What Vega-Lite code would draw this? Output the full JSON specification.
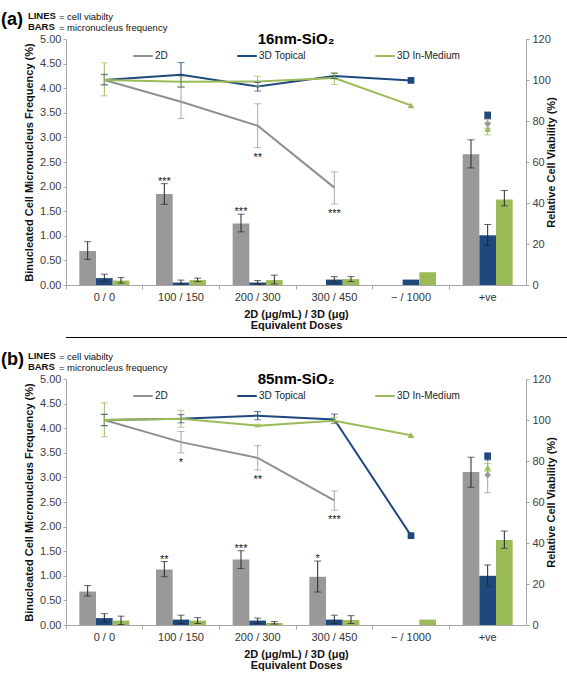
{
  "$schema": "https://vega.github.io/schema/vega-lite/v6.json",
  "background": "white",
  "padding": {"left": 0, "top": 10, "right": 0, "bottom": 0},
  "config": {
    "view": {"stroke": null},
    "font": "Liberation Sans",
    "axis": {"labelFont": "Liberation Sans", "titleFont": "Liberation Sans", "labelColor": "#404040", "titleColor": "#111111", "domainColor": "#a6a6a6", "tickColor": "#a6a6a6", "grid": false, "labelFontSize": 11, "titleFontSize": 11, "titleFontWeight": "bold"},
    "legend": {"labelFont": "Liberation Sans", "titleFont": "Liberation Sans"}
  },
  "datasets": {
    "d": [
      {"panel": "a", "dose": "0 / 0", "series": "2D", "bar": 0.69, "barLo": 0.52, "barHi": 0.88, "barSig": null, "via": 100, "viaLo": 97.5, "viaHi": 102.5, "viaSig": null},
      {"panel": "a", "dose": "0 / 0", "series": "3D Topical", "bar": 0.14, "barLo": 0.07, "barHi": 0.22, "barSig": null, "via": 100, "viaLo": 97.7, "viaHi": 102.8, "viaSig": null},
      {"panel": "a", "dose": "0 / 0", "series": "3D In-Medium", "bar": 0.09, "barLo": 0.04, "barHi": 0.15, "barSig": null, "via": 100, "viaLo": 92.3, "viaHi": 108.4, "viaSig": null},
      {"panel": "a", "dose": "100 / 150", "series": "2D", "bar": 1.85, "barLo": 1.64, "barHi": 2.06, "barSig": "***", "via": 89.4, "viaLo": 81.2, "viaHi": 96.6, "viaSig": null},
      {"panel": "a", "dose": "100 / 150", "series": "3D Topical", "bar": 0.05, "barLo": 0.02, "barHi": 0.1, "barSig": null, "via": 102.5, "viaLo": 96.5, "viaHi": 108.5, "viaSig": null},
      {"panel": "a", "dose": "100 / 150", "series": "3D In-Medium", "bar": 0.1, "barLo": 0.07, "barHi": 0.14, "barSig": null, "via": 99.2, "viaLo": 96.8, "viaHi": 101.5, "viaSig": null},
      {"panel": "a", "dose": "200 / 300", "series": "2D", "bar": 1.25, "barLo": 1.08, "barHi": 1.44, "barSig": "***", "via": 77.7, "viaLo": 67.0, "viaHi": 88.4, "viaSig": "**"},
      {"panel": "a", "dose": "200 / 300", "series": "3D Topical", "bar": 0.05, "barLo": 0.02, "barHi": 0.09, "barSig": null, "via": 96.8, "viaLo": 94.6, "viaHi": 98.8, "viaSig": null},
      {"panel": "a", "dose": "200 / 300", "series": "3D In-Medium", "bar": 0.1, "barLo": 0.02, "barHi": 0.2, "barSig": null, "via": 99.3, "viaLo": 97.0, "viaHi": 101.8, "viaSig": null},
      {"panel": "a", "dose": "300 / 450", "series": "2D", "bar": null, "barLo": null, "barHi": null, "barSig": null, "via": 47.5, "viaLo": 39.5, "viaHi": 55.2, "viaSig": "***"},
      {"panel": "a", "dose": "300 / 450", "series": "3D Topical", "bar": 0.11, "barLo": 0.05, "barHi": 0.17, "barSig": null, "via": 102.0, "viaLo": 100.8, "viaHi": 103.3, "viaSig": null},
      {"panel": "a", "dose": "300 / 450", "series": "3D In-Medium", "bar": 0.12, "barLo": 0.07, "barHi": 0.17, "barSig": null, "via": 101.0, "viaLo": 97.8, "viaHi": 103.6, "viaSig": null},
      {"panel": "a", "dose": "− / 1000", "series": "2D", "bar": null, "barLo": null, "barHi": null, "barSig": null, "via": null, "viaLo": null, "viaHi": null, "viaSig": null},
      {"panel": "a", "dose": "− / 1000", "series": "3D Topical", "bar": 0.11, "barLo": null, "barHi": null, "barSig": null, "via": 99.8, "viaLo": null, "viaHi": null, "viaSig": null},
      {"panel": "a", "dose": "− / 1000", "series": "3D In-Medium", "bar": 0.26, "barLo": null, "barHi": null, "barSig": null, "via": 87.6, "viaLo": null, "viaHi": null, "viaSig": null},
      {"panel": "a", "dose": "+ve", "series": "2D", "bar": 2.66, "barLo": 2.38, "barHi": 2.95, "barSig": null, "via": 78.6, "viaLo": 76.5, "viaHi": 80.8, "viaSig": null},
      {"panel": "a", "dose": "+ve", "series": "3D Topical", "bar": 1.01, "barLo": 0.8, "barHi": 1.23, "barSig": null, "via": 82.8, "viaLo": 81.2, "viaHi": 84.4, "viaSig": null},
      {"panel": "a", "dose": "+ve", "series": "3D In-Medium", "bar": 1.74, "barLo": 1.61, "barHi": 1.92, "barSig": null, "via": 76.2, "viaLo": 73.2, "viaHi": 79.2, "viaSig": null},

      {"panel": "b", "dose": "0 / 0", "series": "2D", "bar": 0.68, "barLo": 0.59, "barHi": 0.8, "barSig": null, "via": 100, "viaLo": 97.0, "viaHi": 103.0, "viaSig": null},
      {"panel": "b", "dose": "0 / 0", "series": "3D Topical", "bar": 0.14, "barLo": 0.06, "barHi": 0.23, "barSig": null, "via": 100, "viaLo": 97.3, "viaHi": 102.7, "viaSig": null},
      {"panel": "b", "dose": "0 / 0", "series": "3D In-Medium", "bar": 0.09, "barLo": 0.01, "barHi": 0.18, "barSig": null, "via": 100, "viaLo": 91.8, "viaHi": 108.4, "viaSig": null},
      {"panel": "b", "dose": "100 / 150", "series": "2D", "bar": 1.13, "barLo": 0.98, "barHi": 1.29, "barSig": "**", "via": 89.2, "viaLo": 84.0, "viaHi": 94.4, "viaSig": "*"},
      {"panel": "b", "dose": "100 / 150", "series": "3D Topical", "bar": 0.11, "barLo": 0.03, "barHi": 0.2, "barSig": null, "via": 100.6, "viaLo": 98.6, "viaHi": 102.6, "viaSig": null},
      {"panel": "b", "dose": "100 / 150", "series": "3D In-Medium", "bar": 0.09, "barLo": 0.03, "barHi": 0.15, "barSig": null, "via": 100.6, "viaLo": 96.5, "viaHi": 104.7, "viaSig": null},
      {"panel": "b", "dose": "200 / 300", "series": "2D", "bar": 1.33, "barLo": 1.15, "barHi": 1.51, "barSig": "***", "via": 81.5, "viaLo": 75.6, "viaHi": 87.5, "viaSig": "**"},
      {"panel": "b", "dose": "200 / 300", "series": "3D Topical", "bar": 0.09, "barLo": 0.03, "barHi": 0.14, "barSig": null, "via": 102.1, "viaLo": 100.1, "viaHi": 104.1, "viaSig": null},
      {"panel": "b", "dose": "200 / 300", "series": "3D In-Medium", "bar": 0.04, "barLo": 0.02, "barHi": 0.07, "barSig": null, "via": 97.2, "viaLo": 96.6, "viaHi": 97.9, "viaSig": null},
      {"panel": "b", "dose": "300 / 450", "series": "2D", "bar": 0.98, "barLo": 0.67, "barHi": 1.3, "barSig": "*", "via": 60.8, "viaLo": 56.0, "viaHi": 65.4, "viaSig": "***"},
      {"panel": "b", "dose": "300 / 450", "series": "3D Topical", "bar": 0.11, "barLo": 0.03, "barHi": 0.2, "barSig": null, "via": 100.3, "viaLo": 98.4, "viaHi": 102.9, "viaSig": null},
      {"panel": "b", "dose": "300 / 450", "series": "3D In-Medium", "bar": 0.1, "barLo": 0.03, "barHi": 0.19, "barSig": null, "via": 99.6, "viaLo": 98.2, "viaHi": 101.2, "viaSig": null},
      {"panel": "b", "dose": "− / 1000", "series": "2D", "bar": null, "barLo": null, "barHi": null, "barSig": null, "via": null, "viaLo": null, "viaHi": null, "viaSig": null},
      {"panel": "b", "dose": "− / 1000", "series": "3D Topical", "bar": null, "barLo": null, "barHi": null, "barSig": null, "via": 43.6, "viaLo": null, "viaHi": null, "viaSig": null},
      {"panel": "b", "dose": "− / 1000", "series": "3D In-Medium", "bar": 0.11, "barLo": null, "barHi": null, "barSig": null, "via": 92.6, "viaLo": null, "viaHi": null, "viaSig": null},
      {"panel": "b", "dose": "+ve", "series": "2D", "bar": 3.11, "barLo": 2.8, "barHi": 3.41, "barSig": null, "via": 73.2, "viaLo": 64.5, "viaHi": 82.0, "viaSig": null},
      {"panel": "b", "dose": "+ve", "series": "3D Topical", "bar": 1.0, "barLo": 0.79, "barHi": 1.22, "barSig": null, "via": 82.3, "viaLo": 80.5, "viaHi": 84.0, "viaSig": null},
      {"panel": "b", "dose": "+ve", "series": "3D In-Medium", "bar": 1.73, "barLo": 1.56, "barHi": 1.91, "barSig": null, "via": 76.8, "viaLo": 74.8, "viaHi": 78.8, "viaSig": null}
    ]
  },
  "spacing": 7,
  "resolve": {"scale": {"color": "independent"}, "legend": {"color": "independent"}},
  "vconcat": [
    {
      "spacing": 0,
      "vconcat": [
        {
          "title": {"text": ["= cell viabilty", "= micronucleus frequency"], "anchor": "start", "frame": "bounds", "font": "Liberation Sans", "fontSize": 9.5, "fontWeight": "normal", "color": "#111111", "lineHeight": 11, "dx": 58, "offset": -21.8},
          "vconcat": [
            {
              "title": {"text": ["LINES", "BARS"], "anchor": "start", "frame": "bounds", "font": "Liberation Sans", "fontSize": 9.5, "fontWeight": "bold", "color": "#111111", "lineHeight": 11, "dx": 27, "offset": -20.3},
              "vconcat": [
                {
                  "data": {"name": "d"},
                  "transform": [{"filter": "datum.panel == 'a'"}],
                  "width": 460,
                  "height": 246,
                  "title": {"text": "(a)", "anchor": "start", "frame": "bounds", "font": "Liberation Sans", "fontSize": 18, "fontWeight": "bold", "color": "#000000", "dx": -22.7, "offset": 4},
                  "encoding": {
                    "x": {"field": "dose", "type": "nominal", "sort": ["0 / 0", "100 / 150", "200 / 300", "300 / 450", "− / 1000", "+ve"], "scale": {"paddingInner": 0, "paddingOuter": 0}, "axis": {"title": ["2D (μg/mL) / 3D (μg)", "Equivalent Doses"], "labelAngle": 0, "bandPosition": 0, "tickSize": 4, "labelPadding": 2, "titlePadding": 6, "titleLineHeight": 11.5, "labelColor": "#333333"}}
                  },
                  "layer": [
                    {
                      "encoding": {"xOffset": {"field": "series", "type": "nominal", "sort": ["2D", "3D Topical", "3D In-Medium"], "scale": {"paddingOuter": 0.8, "paddingInner": 0}}},
                      "layer": [
                        {"mark": {"type": "bar"}, "encoding": {"y": {"field": "bar", "type": "quantitative", "scale": {"domain": [0, 5], "nice": false}, "axis": {"orient": "left", "title": "Binucleated Cell Micronucleus Frequency (%)", "values": [0, 0.5, 1, 1.5, 2, 2.5, 3, 3.5, 4, 4.5, 5], "format": ".2f", "tickSize": 3, "labelPadding": 2, "titlePadding": 5}}, "fill": {"field": "series", "type": "nominal", "scale": {"domain": ["3D Topical", "2D", "3D In-Medium"], "range": ["#1f497d", "#999999", "#9bbb59"]}, "legend": null}}},
                        {"transform": [{"filter": "datum.barLo != null"}], "mark": {"type": "rule", "color": "#262626", "strokeWidth": 1}, "encoding": {"y": {"field": "barLo", "type": "quantitative", "scale": {"domain": [0, 5], "nice": false}, "axis": {"orient": "left", "title": "Binucleated Cell Micronucleus Frequency (%)", "values": [0, 0.5, 1, 1.5, 2, 2.5, 3, 3.5, 4, 4.5, 5], "format": ".2f", "tickSize": 3, "labelPadding": 2, "titlePadding": 5}}, "y2": {"field": "barHi"}}},
                        {"transform": [{"filter": "datum.barLo != null"}], "mark": {"type": "tick", "color": "#262626", "size": 7, "thickness": 1}, "encoding": {"y": {"field": "barLo", "type": "quantitative", "scale": {"domain": [0, 5], "nice": false}, "axis": {"orient": "left", "title": "Binucleated Cell Micronucleus Frequency (%)", "values": [0, 0.5, 1, 1.5, 2, 2.5, 3, 3.5, 4, 4.5, 5], "format": ".2f", "tickSize": 3, "labelPadding": 2, "titlePadding": 5}}}},
                        {"transform": [{"filter": "datum.barHi != null"}], "mark": {"type": "tick", "color": "#262626", "size": 7, "thickness": 1}, "encoding": {"y": {"field": "barHi", "type": "quantitative", "scale": {"domain": [0, 5], "nice": false}, "axis": {"orient": "left", "title": "Binucleated Cell Micronucleus Frequency (%)", "values": [0, 0.5, 1, 1.5, 2, 2.5, 3, 3.5, 4, 4.5, 5], "format": ".2f", "tickSize": 3, "labelPadding": 2, "titlePadding": 5}}}},
                        {"transform": [{"filter": "datum.barSig != null"}], "mark": {"type": "text", "baseline": "alphabetic", "dy": 1, "fontSize": 11, "fill": "#111111"}, "encoding": {"y": {"field": "barHi", "type": "quantitative", "scale": {"domain": [0, 5], "nice": false}, "axis": {"orient": "left", "title": "Binucleated Cell Micronucleus Frequency (%)", "values": [0, 0.5, 1, 1.5, 2, 2.5, 3, 3.5, 4, 4.5, 5], "format": ".2f", "tickSize": 3, "labelPadding": 2, "titlePadding": 5}}, "text": {"field": "barSig"}}}
                      ]
                    },
                    {
                      "layer": [
                        {"transform": [{"filter": "datum.dose != '+ve' && datum.via != null"}], "mark": {"type": "line", "strokeWidth": 2}, "encoding": {"y": {"field": "via", "type": "quantitative", "scale": {"domain": [0, 120], "nice": false}, "axis": {"orient": "right", "title": "Relative Cell Viability (%)", "values": [0, 20, 40, 60, 80, 100, 120], "tickSize": 3, "labelPadding": 3, "titlePadding": 6, "titleAngle": 270}}, "color": {"field": "series", "type": "nominal", "scale": {"domain": ["2D", "3D Topical", "3D In-Medium"], "range": ["#8f8f8f", "#1f497d", "#9bbb59"]}, "legend": {"orient": "none", "legendX": 66, "legendY": -7, "direction": "horizontal", "title": "16nm-SiO₂", "titleFontSize": 15, "titleFontWeight": "bold", "titleColor": "#000000", "titleAnchor": "middle", "titleOrient": "top", "titlePadding": -2, "labelFontSize": 10, "labelColor": "#222222", "symbolType": "stroke", "symbolSize": 380, "symbolStrokeWidth": 2, "columnPadding": 65, "labelOffset": 1, "padding": 0}}}},
                        {"transform": [{"filter": "datum.viaLo != null"}], "mark": {"type": "rule", "strokeWidth": 1}, "encoding": {"y": {"field": "viaLo", "type": "quantitative", "scale": {"domain": [0, 120], "nice": false}, "axis": {"orient": "right", "title": "Relative Cell Viability (%)", "values": [0, 20, 40, 60, 80, 100, 120], "tickSize": 3, "labelPadding": 3, "titlePadding": 6, "titleAngle": 270}}, "y2": {"field": "viaHi"}, "stroke": {"field": "series", "type": "nominal", "scale": {"domain": ["3D In-Medium", "2D", "3D Topical"], "range": ["#9bbb59", "#a6a6a6", "#1f497d"]}, "legend": null}}},
                        {"transform": [{"filter": "datum.viaLo != null"}], "mark": {"type": "tick", "size": 7, "thickness": 1}, "encoding": {"y": {"field": "viaLo", "type": "quantitative", "scale": {"domain": [0, 120], "nice": false}, "axis": {"orient": "right", "title": "Relative Cell Viability (%)", "values": [0, 20, 40, 60, 80, 100, 120], "tickSize": 3, "labelPadding": 3, "titlePadding": 6, "titleAngle": 270}}, "fill": {"field": "series", "type": "nominal", "legend": null}}},
                        {"transform": [{"filter": "datum.viaHi != null"}], "mark": {"type": "tick", "size": 7, "thickness": 1}, "encoding": {"y": {"field": "viaHi", "type": "quantitative", "scale": {"domain": [0, 120], "nice": false}, "axis": {"orient": "right", "title": "Relative Cell Viability (%)", "values": [0, 20, 40, 60, 80, 100, 120], "tickSize": 3, "labelPadding": 3, "titlePadding": 6, "titleAngle": 270}}, "fill": {"field": "series", "type": "nominal", "legend": null}}},
                        {"transform": [{"filter": "(datum.dose == '+ve' || datum.dose == '− / 1000') && datum.via != null"}], "mark": {"type": "point", "filled": true, "size": 45, "opacity": 1}, "encoding": {"y": {"field": "via", "type": "quantitative", "scale": {"domain": [0, 120], "nice": false}, "axis": {"orient": "right", "title": "Relative Cell Viability (%)", "values": [0, 20, 40, 60, 80, 100, 120], "tickSize": 3, "labelPadding": 3, "titlePadding": 6, "titleAngle": 270}}, "fill": {"field": "series", "type": "nominal", "legend": null}, "shape": {"field": "series", "type": "nominal", "scale": {"domain": ["2D", "3D In-Medium", "3D Topical"], "range": ["diamond", "triangle-up", "square"]}, "legend": null}}},
                        {"transform": [{"filter": "datum.viaSig != null"}], "mark": {"type": "text", "baseline": "alphabetic", "dy": 13, "fontSize": 11, "fill": "#111111"}, "encoding": {"y": {"field": "viaLo", "type": "quantitative", "scale": {"domain": [0, 120], "nice": false}, "axis": {"orient": "right", "title": "Relative Cell Viability (%)", "values": [0, 20, 40, 60, 80, 100, 120], "tickSize": 3, "labelPadding": 3, "titlePadding": 6, "titleAngle": 270}}, "text": {"field": "viaSig"}}}
                      ]
                    }
                  ],
                  "resolve": {"scale": {"y": "independent"}}
                }
              ]
            }
          ]
        },
        {
          "data": {"values": [{}]},
          "width": 560,
          "height": 1,
          "view": {"fill": "#000000", "stroke": null},
          "mark": {"type": "text"},
          "encoding": {"text": {"value": ""}}
        }
      ]
    },
    {
      "title": {"text": ["= cell viabilty", "= micronucleus frequency"], "anchor": "start", "frame": "bounds", "font": "Liberation Sans", "fontSize": 9.5, "fontWeight": "normal", "color": "#111111", "lineHeight": 11, "dx": 58, "offset": -21.8},
      "vconcat": [
        {
          "title": {"text": ["LINES", "BARS"], "anchor": "start", "frame": "bounds", "font": "Liberation Sans", "fontSize": 9.5, "fontWeight": "bold", "color": "#111111", "lineHeight": 11, "dx": 27, "offset": -20.3},
          "vconcat": [
            {
              "data": {"name": "d"},
              "transform": [{"filter": "datum.panel == 'b'"}],
              "width": 460,
              "height": 246,
              "title": {"text": "(b)", "anchor": "start", "frame": "bounds", "font": "Liberation Sans", "fontSize": 18, "fontWeight": "bold", "color": "#000000", "dx": -22.7, "offset": 4},
              "encoding": {
                "x": {"field": "dose", "type": "nominal", "sort": ["0 / 0", "100 / 150", "200 / 300", "300 / 450", "− / 1000", "+ve"], "scale": {"paddingInner": 0, "paddingOuter": 0}, "axis": {"title": ["2D (μg/mL) / 3D (μg)", "Equivalent Doses"], "labelAngle": 0, "bandPosition": 0, "tickSize": 4, "labelPadding": 2, "titlePadding": 6, "titleLineHeight": 11.5, "labelColor": "#333333"}}
              },
              "layer": [
                {
                  "encoding": {"xOffset": {"field": "series", "type": "nominal", "sort": ["2D", "3D Topical", "3D In-Medium"], "scale": {"paddingOuter": 0.8, "paddingInner": 0}}},
                  "layer": [
                    {"mark": {"type": "bar"}, "encoding": {"y": {"field": "bar", "type": "quantitative", "scale": {"domain": [0, 5], "nice": false}, "axis": {"orient": "left", "title": "Binucleated Cell Micronucleus Frequency (%)", "values": [0, 0.5, 1, 1.5, 2, 2.5, 3, 3.5, 4, 4.5, 5], "format": ".2f", "tickSize": 3, "labelPadding": 2, "titlePadding": 5}}, "fill": {"field": "series", "type": "nominal", "scale": {"domain": ["3D Topical", "2D", "3D In-Medium"], "range": ["#1f497d", "#999999", "#9bbb59"]}, "legend": null}}},
                    {"transform": [{"filter": "datum.barLo != null"}], "mark": {"type": "rule", "color": "#262626", "strokeWidth": 1}, "encoding": {"y": {"field": "barLo", "type": "quantitative", "scale": {"domain": [0, 5], "nice": false}, "axis": {"orient": "left", "title": "Binucleated Cell Micronucleus Frequency (%)", "values": [0, 0.5, 1, 1.5, 2, 2.5, 3, 3.5, 4, 4.5, 5], "format": ".2f", "tickSize": 3, "labelPadding": 2, "titlePadding": 5}}, "y2": {"field": "barHi"}}},
                    {"transform": [{"filter": "datum.barLo != null"}], "mark": {"type": "tick", "color": "#262626", "size": 7, "thickness": 1}, "encoding": {"y": {"field": "barLo", "type": "quantitative", "scale": {"domain": [0, 5], "nice": false}, "axis": {"orient": "left", "title": "Binucleated Cell Micronucleus Frequency (%)", "values": [0, 0.5, 1, 1.5, 2, 2.5, 3, 3.5, 4, 4.5, 5], "format": ".2f", "tickSize": 3, "labelPadding": 2, "titlePadding": 5}}}},
                    {"transform": [{"filter": "datum.barHi != null"}], "mark": {"type": "tick", "color": "#262626", "size": 7, "thickness": 1}, "encoding": {"y": {"field": "barHi", "type": "quantitative", "scale": {"domain": [0, 5], "nice": false}, "axis": {"orient": "left", "title": "Binucleated Cell Micronucleus Frequency (%)", "values": [0, 0.5, 1, 1.5, 2, 2.5, 3, 3.5, 4, 4.5, 5], "format": ".2f", "tickSize": 3, "labelPadding": 2, "titlePadding": 5}}}},
                    {"transform": [{"filter": "datum.barSig != null"}], "mark": {"type": "text", "baseline": "alphabetic", "dy": 1, "fontSize": 11, "fill": "#111111"}, "encoding": {"y": {"field": "barHi", "type": "quantitative", "scale": {"domain": [0, 5], "nice": false}, "axis": {"orient": "left", "title": "Binucleated Cell Micronucleus Frequency (%)", "values": [0, 0.5, 1, 1.5, 2, 2.5, 3, 3.5, 4, 4.5, 5], "format": ".2f", "tickSize": 3, "labelPadding": 2, "titlePadding": 5}}, "text": {"field": "barSig"}}}
                  ]
                },
                {
                  "layer": [
                    {"transform": [{"filter": "datum.dose != '+ve' && datum.via != null"}], "mark": {"type": "line", "strokeWidth": 2}, "encoding": {"y": {"field": "via", "type": "quantitative", "scale": {"domain": [0, 120], "nice": false}, "axis": {"orient": "right", "title": "Relative Cell Viability (%)", "values": [0, 20, 40, 60, 80, 100, 120], "tickSize": 3, "labelPadding": 3, "titlePadding": 6, "titleAngle": 270}}, "color": {"field": "series", "type": "nominal", "scale": {"domain": ["2D", "3D Topical", "3D In-Medium"], "range": ["#8f8f8f", "#1f497d", "#9bbb59"]}, "legend": {"orient": "none", "legendX": 66, "legendY": -7, "direction": "horizontal", "title": "85nm-SiO₂", "titleFontSize": 15, "titleFontWeight": "bold", "titleColor": "#000000", "titleAnchor": "middle", "titleOrient": "top", "titlePadding": -2, "labelFontSize": 10, "labelColor": "#222222", "symbolType": "stroke", "symbolSize": 380, "symbolStrokeWidth": 2, "columnPadding": 65, "labelOffset": 1, "padding": 0}}}},
                    {"transform": [{"filter": "datum.viaLo != null"}], "mark": {"type": "rule", "strokeWidth": 1}, "encoding": {"y": {"field": "viaLo", "type": "quantitative", "scale": {"domain": [0, 120], "nice": false}, "axis": {"orient": "right", "title": "Relative Cell Viability (%)", "values": [0, 20, 40, 60, 80, 100, 120], "tickSize": 3, "labelPadding": 3, "titlePadding": 6, "titleAngle": 270}}, "y2": {"field": "viaHi"}, "stroke": {"field": "series", "type": "nominal", "scale": {"domain": ["3D In-Medium", "2D", "3D Topical"], "range": ["#9bbb59", "#a6a6a6", "#1f497d"]}, "legend": null}}},
                    {"transform": [{"filter": "datum.viaLo != null"}], "mark": {"type": "tick", "size": 7, "thickness": 1}, "encoding": {"y": {"field": "viaLo", "type": "quantitative", "scale": {"domain": [0, 120], "nice": false}, "axis": {"orient": "right", "title": "Relative Cell Viability (%)", "values": [0, 20, 40, 60, 80, 100, 120], "tickSize": 3, "labelPadding": 3, "titlePadding": 6, "titleAngle": 270}}, "fill": {"field": "series", "type": "nominal", "legend": null}}},
                    {"transform": [{"filter": "datum.viaHi != null"}], "mark": {"type": "tick", "size": 7, "thickness": 1}, "encoding": {"y": {"field": "viaHi", "type": "quantitative", "scale": {"domain": [0, 120], "nice": false}, "axis": {"orient": "right", "title": "Relative Cell Viability (%)", "values": [0, 20, 40, 60, 80, 100, 120], "tickSize": 3, "labelPadding": 3, "titlePadding": 6, "titleAngle": 270}}, "fill": {"field": "series", "type": "nominal", "legend": null}}},
                    {"transform": [{"filter": "(datum.dose == '+ve' || datum.dose == '− / 1000') && datum.via != null"}], "mark": {"type": "point", "filled": true, "size": 45, "opacity": 1}, "encoding": {"y": {"field": "via", "type": "quantitative", "scale": {"domain": [0, 120], "nice": false}, "axis": {"orient": "right", "title": "Relative Cell Viability (%)", "values": [0, 20, 40, 60, 80, 100, 120], "tickSize": 3, "labelPadding": 3, "titlePadding": 6, "titleAngle": 270}}, "fill": {"field": "series", "type": "nominal", "legend": null}, "shape": {"field": "series", "type": "nominal", "scale": {"domain": ["2D", "3D In-Medium", "3D Topical"], "range": ["diamond", "triangle-up", "square"]}, "legend": null}}},
                    {"transform": [{"filter": "datum.viaSig != null"}], "mark": {"type": "text", "baseline": "alphabetic", "dy": 13, "fontSize": 11, "fill": "#111111"}, "encoding": {"y": {"field": "viaLo", "type": "quantitative", "scale": {"domain": [0, 120], "nice": false}, "axis": {"orient": "right", "title": "Relative Cell Viability (%)", "values": [0, 20, 40, 60, 80, 100, 120], "tickSize": 3, "labelPadding": 3, "titlePadding": 6, "titleAngle": 270}}, "text": {"field": "viaSig"}}}
                  ]
                }
              ],
              "resolve": {"scale": {"y": "independent"}}
            }
          ]
        }
      ]
    }
  ]
}
